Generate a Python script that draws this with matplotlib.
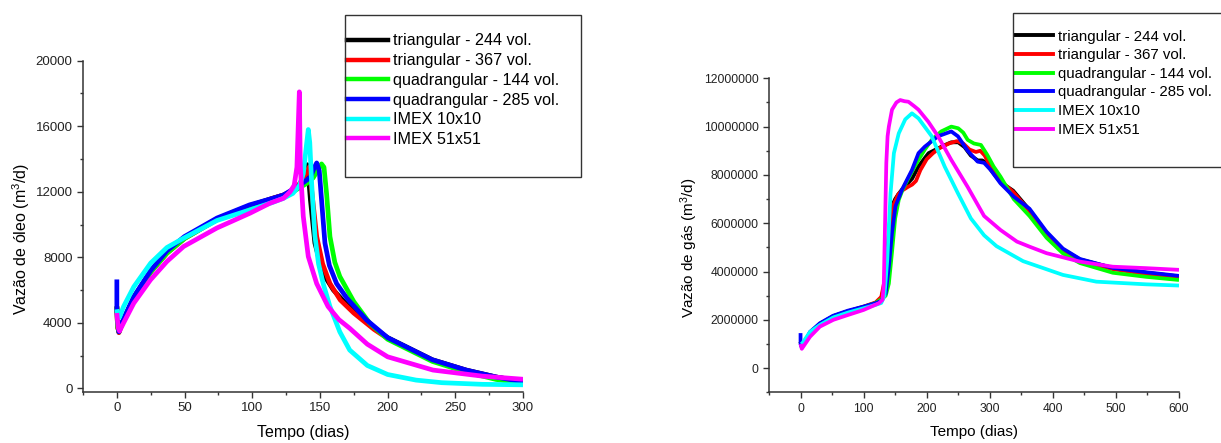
import matplotlib
matplotlib.use("Agg")
import matplotlib.pyplot as plt
from matplotlib.ticker import MultipleLocator, FixedLocator
from matplotlib.patches import Rectangle
from matplotlib.lines import Line2D

plt.rcParams['font.family'] = ['Liberation Sans', 'DejaVu Sans']
plt.rcParams['mathtext.fontset'] = 'custom'
plt.rcParams['mathtext.rm'] = 'Liberation Sans'
plt.rcParams['mathtext.it'] = 'Liberation Sans:italic'

labels = ["triangular - 244 vol.", "triangular - 367 vol.", "quadrangular - 144 vol.",
          "quadrangular - 285 vol.", "IMEX 10x10", "IMEX 51x51"]
colors = ["#000000", "#ff0000", "#00ff00", "#0000ff", "#00ffff", "#ff00ff"]

# ---------------- Oil rate (m3/d) ----------------
oil_t_tri244 = [0, 0.5, 1.5, 5, 12.5, 25, 37, 50, 74, 98, 115, 123, 130, 135, 138, 140.7, 142, 143,
                146.3, 150, 153.7, 160, 170, 185, 200, 233, 258, 280, 300]
oil_v_tri244 = [5000, 3800, 3450, 4200, 5550, 7150, 8300, 9200, 10350, 11150, 11600, 11800, 12050,
                12400, 12900, 13650, 12500, 11500, 8870, 7700, 6830, 6000, 5100, 4000, 3100, 1750,
                1120, 700, 420]
oil_t_tri367 = [0, 0.5, 1.5, 5, 12.5, 25, 37, 50, 74, 98, 115, 123, 130, 135, 139, 142, 144, 147.6,
                152, 157.4, 165, 175, 190, 200, 233, 258, 280, 300]
oil_v_tri367 = [5000, 3800, 3400, 4200, 5500, 7100, 8250, 9150, 10300, 11100, 11600, 11800, 12100,
                12500, 13000, 13500, 12000, 9270, 7600, 6400, 5400, 4600, 3600, 3050, 1720, 1100,
                680, 400]
oil_t_quad144 = [0, 0.5, 1.5, 5, 12.5, 25, 37, 50, 74, 98, 115, 123, 130, 135, 140, 145, 149, 151.2,
                 153, 154.9, 157.4, 161, 164.7, 175, 186.8, 200, 233, 258, 280, 300]
oil_v_quad144 = [5000, 3800, 3450, 4200, 5500, 7100, 8250, 9150, 10300, 11100, 11550, 11750, 12000,
                 12250, 12500, 12850, 13400, 13700, 13500, 11900, 9270, 7700, 6830, 5300, 3980,
                 3000, 1650, 1000, 550, 300]
oil_t_quad285 = [0, 0, 1.5, 5, 12.5, 25, 37, 50, 74, 98, 115, 123, 130, 135, 140, 143, 146, 147.6,
                 149.5, 151.2, 153.7, 157, 162.3, 170, 184.4, 200, 233, 258, 280, 300]
oil_v_quad285 = [6650, 4800, 3450, 4250, 5600, 7200, 8400, 9270, 10400, 11200, 11600, 11800, 12150,
                 12400, 12700, 12900, 13500, 13760, 13300, 11500, 8870, 7500, 6400, 5500, 4180,
                 3100, 1750, 1120, 700, 400]
oil_t_imex10 = [0, 1, 2, 5, 12.5, 25, 37, 50, 74, 98.5, 115, 123, 130, 135, 137.7, 140, 141.4,
                142.5, 143.9, 146.3, 149, 152.4, 157.4, 164.7, 172, 185, 200, 221, 240, 270, 300]
oil_v_imex10 = [4830, 4300, 4350, 5000, 6200, 7650, 8600, 9200, 10250, 10900, 11350, 11600, 11900,
                12400, 13100, 14800, 15800, 15000, 12500, 9300, 7600, 6400, 5000, 3450, 2340, 1400,
                850, 508, 350, 250, 220]
oil_t_imex51 = [0, 1, 2, 5, 12.5, 24.8, 37, 49.3, 73.9, 98.5, 113, 123, 128, 131, 133, 134.8, 135.5,
                137.7, 141.4, 147.6, 156, 164, 172, 185, 200, 233.5, 270, 300]
oil_v_imex51 = [4600, 3700, 3500, 4000, 5200, 6620, 7750, 8660, 9790, 10700, 11300, 11600, 12000,
                12400, 13500, 18100, 13550, 10500, 8050, 6400, 5000, 4200, 3670, 2700, 1930, 1120,
                750, 560]

# ---------------- Gas rate (m3/d) ----------------
gas_t_tri244 = [0, 2, 15, 30, 52, 75, 100, 119, 128, 133, 138, 142, 145, 150, 155, 161, 170, 177,
                187, 197, 203, 218, 230, 239, 250, 260, 270, 281, 288, 295, 302, 317, 337, 363, 390,
                416, 443, 495, 548, 600]
gas_v_tri244 = [1.1e6, 0.9e6, 1.45e6, 1.82e6, 2.15e6, 2.35e6, 2.53e6, 2.7e6, 2.9e6, 3.4e6, 4.8e6,
                6.2e6, 6.7e6, 7.0e6, 7.2e6, 7.4e6, 7.65e6, 7.85e6, 8.35e6, 8.7e6, 8.9e6, 9.1e6,
                9.25e6, 9.35e6, 9.35e6, 9.15e6, 8.8e6, 8.6e6, 8.6e6, 8.5e6, 8.2e6, 7.7e6, 7.35e6,
                6.55e6, 5.6e6, 4.9e6, 4.5e6, 4.15e6, 3.95e6, 3.8e6]
gas_t_tri367 = [0, 2, 15, 30, 52, 75, 100, 119, 128, 133, 138, 143, 148, 155, 161, 170, 177, 183,
                190, 200, 210, 220, 235, 248, 258, 268, 278, 285, 292, 302, 317, 337, 363, 390, 416,
                443, 495, 548, 600]
gas_v_tri367 = [1.1e6, 0.9e6, 1.45e6, 1.82e6, 2.15e6, 2.35e6, 2.55e6, 2.72e6, 2.95e6, 3.6e6, 4.8e6,
                6.0e6, 6.8e6, 7.2e6, 7.35e6, 7.5e6, 7.6e6, 7.75e6, 8.2e6, 8.65e6, 8.9e6, 9.1e6,
                9.3e6, 9.4e6, 9.3e6, 9.05e6, 8.95e6, 9.0e6, 8.8e6, 8.3e6, 7.75e6, 7.3e6, 6.5e6,
                5.55e6, 4.85e6, 4.45e6, 4.1e6, 3.9e6, 3.75e6]
gas_t_quad144 = [0, 2, 15, 30, 52, 75, 100, 119, 128, 135, 140, 145, 150, 155.7, 162, 171, 180, 187,
                 197, 208, 223, 239, 250, 258, 265, 275, 286, 296, 306, 317, 338, 363, 390, 416, 443,
                 495, 548, 600]
gas_v_quad144 = [1.1e6, 0.9e6, 1.45e6, 1.82e6, 2.15e6, 2.35e6, 2.53e6, 2.7e6, 2.85e6, 3.0e6, 3.5e6,
                 4.8e6, 6.2e6, 6.97e6, 7.4e6, 7.86e6, 8.3e6, 8.62e6, 9.05e6, 9.45e6, 9.8e6, 10.0e6,
                 9.93e6, 9.75e6, 9.45e6, 9.3e6, 9.24e6, 8.83e6, 8.35e6, 7.93e6, 7.0e6, 6.3e6, 5.4e6,
                 4.75e6, 4.35e6, 3.95e6, 3.78e6, 3.65e6]
gas_t_quad285 = [0, 0, 2, 15, 30.7, 51.6, 75, 100, 119, 128, 135, 140, 145, 150.5, 161, 176.6, 187,
                 197, 218, 239, 249.5, 265, 280.7, 291, 301.6, 317, 338, 363, 390, 416, 443, 495,
                 548, 600]
gas_v_quad285 = [1.45e6, 1.0e6, 0.85e6, 1.5e6, 1.86e6, 2.17e6, 2.38e6, 2.55e6, 2.69e6, 2.78e6,
                 3.1e6, 4.2e6, 5.6e6, 6.7e6, 7.4e6, 8.2e6, 8.9e6, 9.17e6, 9.6e6, 9.8e6, 9.6e6,
                 9.0e6, 8.55e6, 8.5e6, 8.2e6, 7.65e6, 7.1e6, 6.6e6, 5.65e6, 4.95e6, 4.52e6, 4.15e6,
                 3.97e6, 3.82e6]
gas_t_imex10 = [0, 2, 15, 30.7, 52, 75, 100, 119, 128, 133, 137.5, 142.7, 148, 155.7, 166, 176.6,
                187, 208, 228.6, 249.5, 270, 291, 310.7, 352.8, 416, 469, 548, 600]
gas_v_imex10 = [1.0e6, 1.0e6, 1.5e6, 1.79e6, 2.1e6, 2.3e6, 2.48e6, 2.62e6, 2.7e6, 3.0e6, 4.5e6,
                7.24e6, 8.9e6, 9.72e6, 10.3e6, 10.55e6, 10.34e6, 9.6e6, 8.34e6, 7.24e6, 6.2e6,
                5.5e6, 5.05e6, 4.43e6, 3.86e6, 3.58e6, 3.47e6, 3.42e6]
gas_t_imex51 = [0, 2, 15, 30.7, 52, 75, 100, 124.5, 130, 132, 134, 136, 138, 140, 145, 152, 158,
                165, 171, 180, 187, 202.6, 218, 239, 265, 291, 317, 343, 363, 390, 443, 495, 548, 600]
gas_v_imex51 = [1.0e6, 0.8e6, 1.3e6, 1.72e6, 2.0e6, 2.2e6, 2.41e6, 2.69e6, 2.83e6, 3.5e6, 6.0e6,
                8.5e6, 9.6e6, 10.0e6, 10.7e6, 11.0e6, 11.1e6, 11.05e6, 11.03e6, 10.85e6, 10.7e6,
                10.2e6, 9.6e6, 8.62e6, 7.5e6, 6.3e6, 5.72e6, 5.24e6, 5.03e6, 4.76e6, 4.41e6, 4.2e6,
                4.14e6, 4.07e6]

oil_series = [(oil_t_tri244, oil_v_tri244), (oil_t_tri367, oil_v_tri367),
              (oil_t_quad144, oil_v_quad144), (oil_t_quad285, oil_v_quad285),
              (oil_t_imex10, oil_v_imex10), (oil_t_imex51, oil_v_imex51)]
gas_series = [(gas_t_tri244, gas_v_tri244), (gas_t_tri367, gas_v_tri367),
              (gas_t_quad144, gas_v_quad144), (gas_t_quad285, gas_v_quad285),
              (gas_t_imex10, gas_v_imex10), (gas_t_imex51, gas_v_imex51)]

W, H = 1221, 443
fig = plt.figure(figsize=(W / 100, H / 100), dpi=100)

ax1 = fig.add_axes([83 / W, 1 - 391.7 / H, 440 / W, 331 / H])
ax2 = fig.add_axes([769 / W, 1 - 392.3 / H, 410 / W, 314 / H])

spine_col = "#333333"

def style(ax, tick_fs):
    for s in ("top", "right"):
        ax.spines[s].set_visible(False)
    for s in ("left", "bottom"):
        ax.spines[s].set_color(spine_col)
        ax.spines[s].set_linewidth(1.1)
    ax.tick_params(which="major", direction="out", length=4.5, width=1.0, color=spine_col,
                   labelsize=tick_fs, pad=3, labelcolor="#222222")
    ax.tick_params(which="minor", direction="out", length=2.5, width=1.0, color=spine_col)
    ax.ticklabel_format(style="plain", useOffset=False)

for (t, v), c in zip(oil_series, colors):
    ax1.plot(t, v, color=c, lw=3.4, solid_joinstyle="round", solid_capstyle="butt")
ax1.set_xlim(-25, 300)
ax1.set_ylim(-200, 20000)
ax1.xaxis.set_major_locator(MultipleLocator(50))
ax1.xaxis.set_minor_locator(FixedLocator([-25, 25, 75, 125, 175, 225, 275]))
ax1.yaxis.set_major_locator(MultipleLocator(4000))
ax1.yaxis.set_minor_locator(FixedLocator([2000, 6000, 10000, 14000, 18000]))
style(ax1, 9.5)
ax1.set_xlabel("Tempo (dias)", fontsize=11.5)
ax1.set_ylabel("Vazão de óleo (m$^3$/d)", fontsize=11.5)
ax1.xaxis.set_label_coords(0.5, -0.1)
ax1.yaxis.set_label_coords(-0.116, 0.461)

for (t, v), c in zip(gas_series, colors):
    ax2.plot(t, v, color=c, lw=2.7, solid_joinstyle="round", solid_capstyle="butt")
ax2.set_xlim(-50, 600)
ax2.set_ylim(-1e6, 12e6)
ax2.xaxis.set_major_locator(MultipleLocator(100))
ax2.xaxis.set_minor_locator(FixedLocator([-50, 50, 150, 250, 350, 450, 550]))
ax2.yaxis.set_major_locator(MultipleLocator(2e6))
ax2.yaxis.set_minor_locator(FixedLocator([-1e6, 1e6, 3e6, 5e6, 7e6, 9e6, 11e6]))
style(ax2, 8.7)
ax2.set_xlabel("Tempo (dias)", fontsize=11)
ax2.set_ylabel("Vazão de gás (m$^3$/d)", fontsize=11)
ax2.xaxis.set_label_coords(0.5, -0.104)
ax2.yaxis.set_label_coords(-0.168, 0.461)

# legend frames
fig.patches.append(Rectangle((345 / W, 1 - 177 / H), 236 / W, 162 / H, transform=fig.transFigure,
                             fill=False, edgecolor="#333333", lw=1.0))
fig.patches.append(Rectangle((1013 / W, 1 - 167 / H), 220 / W, 154 / H, transform=fig.transFigure,
                             fill=False, edgecolor="#333333", lw=1.0))

h1 = [Line2D([], [], color=c, lw=3.2) for c in colors]
leg1 = ax1.legend(h1, labels, loc="upper left", bbox_to_anchor=(347 / W, 1 - 33.5 / H),
                  bbox_transform=fig.transFigure, frameon=False, fontsize=11.6,
                  handlelength=2.55, handletextpad=0.31, labelspacing=0.29, borderpad=0,
                  borderaxespad=0)
h2 = [Line2D([], [], color=c, lw=2.8) for c in colors]
leg2 = ax2.legend(h2, labels, loc="upper left", bbox_to_anchor=(1015 / W, 1 - 29.5 / H),
                  bbox_transform=fig.transFigure, frameon=False, fontsize=10.8,
                  handlelength=2.53, handletextpad=0.33, labelspacing=0.31, borderpad=0,
                  borderaxespad=0)

fig.savefig("out.png", dpi=100)
